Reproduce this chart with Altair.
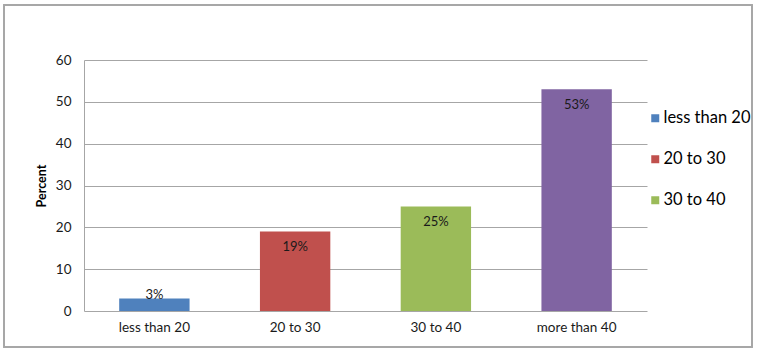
import altair as alt
import pandas as pd

categories = ["less than 20", "20 to 30", "30 to 40", "more than 40"]
values = [3, 19, 25, 53]
labels = ["3%", "19%", "25%", "53%"]
colors = ["#4f81bd", "#c0504d", "#9bbb59", "#8064a2"]

df = pd.DataFrame({"cat": categories, "value": values, "label": labels})

FONT = "Lato"

x_enc = alt.X("cat:N", sort=categories, title=None,
              scale=alt.Scale(paddingInner=0.5, paddingOuter=0.25),
              axis=alt.Axis(labelAngle=0, ticks=False, domain=False, labelPadding=9,
                            labelFontSize=13.5, labelColor="#1a1a1a", labelFont=FONT))

bars = alt.Chart(df).mark_bar().encode(
    x=x_enc,
    y=alt.Y("value:Q", title="Percent",
            scale=alt.Scale(domain=[0, 60], nice=False),
            axis=alt.Axis(values=[0, 10, 20, 30, 40, 50, 60], ticks=False,
                          domainColor="#a6a6a6", gridColor="#a6a6a6",
                          labelFontSize=13.5, labelColor="#1a1a1a", labelPadding=13,
                          labelFont=FONT, titleFont=FONT, titleFontSize=12.5,
                          titleFontWeight="bold", titleColor="#000000", titlePadding=7)),
    color=alt.Color("cat:N", sort=categories,
                    scale=alt.Scale(domain=categories, range=colors),
                    legend=alt.Legend(title=None, orient="none", legendX=563, legendY=50,
                                      values=categories[:3], symbolType="square",
                                      symbolSize=64, symbolStrokeWidth=0,
                                      labelFontSize=16.5, labelFont=FONT, labelColor="#000000",
                                      rowPadding=24, labelOffset=0)),
)

text = alt.Chart(df).transform_calculate(
    ly="max(datum.value - 3.8, 3.8)"
).mark_text(fontSize=13, font=FONT, color="#1a1a1a", baseline="middle").encode(
    x=alt.X("cat:N", sort=categories),
    y=alt.Y("ly:Q"),
    text="label:N",
)

border = alt.Chart(df).mark_rect(fill=None, stroke="#a6a6a6", strokeWidth=1.5, clip=False).encode(
    x=alt.value(-80), x2=alt.value(668), y=alt.value(-55), y2=alt.value(287)
)

chart = alt.layer(bars, text, border).properties(
    width=563, height=251,
    autosize=alt.AutoSizeParams(type="none"),
    padding={"left": 84, "top": 60, "right": 111, "bottom": 38},
).configure_view(stroke=None).configure_axisX(grid=False)

chart.save("out.html", embed_options={"renderer": "svg", "actions": False})
